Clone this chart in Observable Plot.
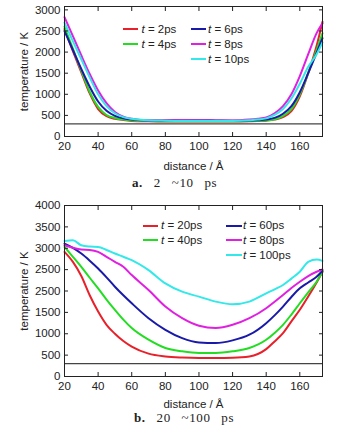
<!DOCTYPE html>
<html><head><meta charset="utf-8">
<script src="https://cdn.jsdelivr.net/npm/d3@7"></script>
<script src="https://cdn.jsdelivr.net/npm/@observablehq/plot@0.6"></script>
<style>
body{margin:0;background:#fff;width:337px;height:426px;position:relative;overflow:hidden;font-family:"Liberation Sans",Arial,sans-serif;}
.panel{position:absolute;left:0;}
.cap{position:absolute;font-family:"Liberation Serif","DejaVu Serif",serif;font-size:13px;color:#222;white-space:pre;line-height:16px;word-spacing:7px;letter-spacing:0.6px;}
.leg{position:absolute;font-size:11.5px;line-height:13px;white-space:nowrap;color:#222}
.sw{position:absolute;height:2px}
</style></head><body>
<div id="a" class="panel" style="top:0"></div>
<div id="b" class="panel" style="top:199px"></div>
<div class="cap" style="left:132px;top:175px"><b>a.</b> 2 ~10 ps</div>
<div class="cap" style="left:134px;top:410px"><b>b.</b> 20 ~100 ps</div>
<script>
// ---- data ----
const xTicks = [20, 40, 60, 80, 100, 120, 140, 160];
const roomTemp = [300];

// panel a (2 ~ 10 ps)
const xA = [20,25,30,35,40,45,50,55,60,70,80,90,100,110,120,130,135,140,145,150,155,160,165,170,173.5];
const tA2  = [2550,2020,1520,1020,650,480,420,390,370,360,355,355,355,355,355,360,365,375,400,460,600,950,1500,2150,2720];
const tA4  = [2600,2080,1560,1060,700,510,440,400,380,365,360,360,360,360,360,365,370,380,410,490,650,1000,1500,2050,2450];
const tA6  = [2500,2050,1600,1180,830,610,490,430,400,380,380,385,385,380,375,380,385,400,440,540,720,1050,1500,1980,2330];
const tA8  = [2830,2380,1920,1480,1090,790,580,470,420,380,385,390,385,380,380,400,420,450,550,720,1000,1430,1950,2450,2680];
const tA10 = [2700,2260,1830,1400,1000,720,550,460,420,385,375,370,370,370,370,385,400,430,510,650,900,1250,1650,1950,2230];
const labelsA = ["t = 2ps", "t = 4ps", "t = 6ps", "t = 8ps", "t = 10ps"];
const yTicksA = [0, 500, 1000, 1500, 2000, 2500, 3000];
const yTickLabelsA = ["0", "500", "1000", "1500", "2000", "2500", "3000"];

// panel b (20 ~ 100 ps)
const xB = [20,25,30,35,40,45,50,55,60,70,80,90,100,110,120,130,140,145,150,155,160,165,170,173.5];
const tB20  = [2915,2680,2350,1900,1520,1210,1000,830,700,535,470,445,435,435,440,470,640,820,1015,1290,1560,1870,2200,2450];
const tB40  = [3030,2800,2566,2310,2062,1800,1558,1330,1132,860,667,589,550,550,589,667,860,1020,1209,1450,1713,1970,2217,2450];
const tB60  = [3110,3010,2876,2710,2527,2320,2100,1900,1713,1364,1093,899,798,783,845,977,1248,1430,1636,1860,2062,2200,2333,2473];
const tB80  = [3070,3010,2969,2960,2915,2800,2682,2566,2372,2023,1636,1364,1186,1132,1209,1364,1597,1750,1907,2070,2217,2350,2450,2504];
const tB100 = [3171,3186,3070,3040,3031,2960,2876,2800,2721,2488,2178,1984,1868,1752,1690,1752,1946,2040,2140,2290,2450,2682,2736,2705];
const labelsB = ["t = 20ps", "t = 40ps", "t = 60ps", "t = 80ps", "t = 100ps"];
const yTicksB = [0, 500, 1000, 1500, 2000, 2500, 3000, 3500, 4000];
const yTickLabelsB = ["0", "500", "1000", "1500", "2500", "2500", "3000", "3500", "4000"];

const colors = ["#e8202a", "#22dd22", "#1a1aaa", "#e020e0", "#33e8e8"];

// ---- drawing ----
function build(el, xs, seriesVals, labels, yMax, yTicks, yTickLabels, height, xLabelOffset) {
  const rows = [];
  seriesVals.forEach((vals, s) => vals.forEach((v, i) => rows.push({x: xs[i], T: v, key: labels[s]})));
  const fmt = d => yTickLabels[yTicks.indexOf(d)];
  const plot = Plot.plot({
    width: 337, height,
    marginLeft: 64, marginRight: 15, marginTop: 6, marginBottom: 36,
    style: {fontFamily: "'Liberation Sans', Arial, sans-serif", fontSize: "11.5px", color: "#222", background: "#fff"},
    x: {domain: [20, 173.5]},
    y: {domain: [0, yMax]},
    color: {type: "ordinal", domain: labels, range: colors},
    marks: [
      Plot.ruleY(roomTemp, {stroke: "#444", strokeWidth: 1.2}),
      Plot.line(rows, {x: "x", y: "T", z: "key", stroke: "key", strokeWidth: 2, curve: "monotone-x"}),
      Plot.frame({stroke: "#222"}),
      Plot.axisX({anchor: "bottom", ticks: xTicks, tickSize: -4, tickPadding: 9, label: "distance / Å", labelAnchor: "center", labelArrow: "none", labelOffset: xLabelOffset}),
      Plot.axisX({anchor: "top", ticks: xTicks, tickSize: -4, tickFormat: () => "", label: null}),
      Plot.axisY({anchor: "left", ticks: yTicks, tickSize: -4, tickPadding: 8, tickFormat: fmt, label: "temperature / K", labelAnchor: "center", labelArrow: "none", labelOffset: 45}),
      Plot.axisY({anchor: "right", ticks: yTicks, tickSize: -4, tickFormat: () => "", label: null})
    ]
  });
  document.getElementById(el).appendChild(plot);
}

function legend(labels, pos) {
  labels.forEach((lab, i) => {
    const p = pos[i];
    const sw = document.createElement("div");
    sw.className = "sw";
    sw.style.left = p.sx + "px"; sw.style.width = p.sw + "px";
    sw.style.top = (p.y - 1) + "px"; sw.style.background = colors[i];
    document.body.appendChild(sw);
    const t = document.createElement("div");
    t.className = "leg";
    t.style.left = p.tx + "px"; t.style.top = (p.y - 6.5) + "px";
    t.innerHTML = "<i>t</i>" + lab.slice(1);
    document.body.appendChild(t);
  });
}

build("a", xA, [tA2, tA4, tA6, tA8, tA10], labelsA, 3080, yTicksA, yTickLabelsA, 172, 33);
build("b", xB, [tB20, tB40, tB60, tB80, tB100], labelsB, 4000, yTicksB, yTickLabelsB, 213, 31.5);

legend(labelsA, [
  {sx: 123, sw: 15, tx: 141.5, y: 29},
  {sx: 123, sw: 15, tx: 141.5, y: 44},
  {sx: 191, sw: 15, tx: 208, y: 29},
  {sx: 191, sw: 15, tx: 208, y: 44},
  {sx: 191, sw: 15, tx: 208, y: 59}
]);
legend(labelsB, [
  {sx: 143, sw: 15, tx: 161, y: 225.7},
  {sx: 143, sw: 15, tx: 161, y: 240},
  {sx: 226, sw: 16, tx: 243, y: 225.7},
  {sx: 226, sw: 16, tx: 243, y: 240},
  {sx: 226, sw: 16, tx: 243, y: 255}
]);
</script>
</body></html>
